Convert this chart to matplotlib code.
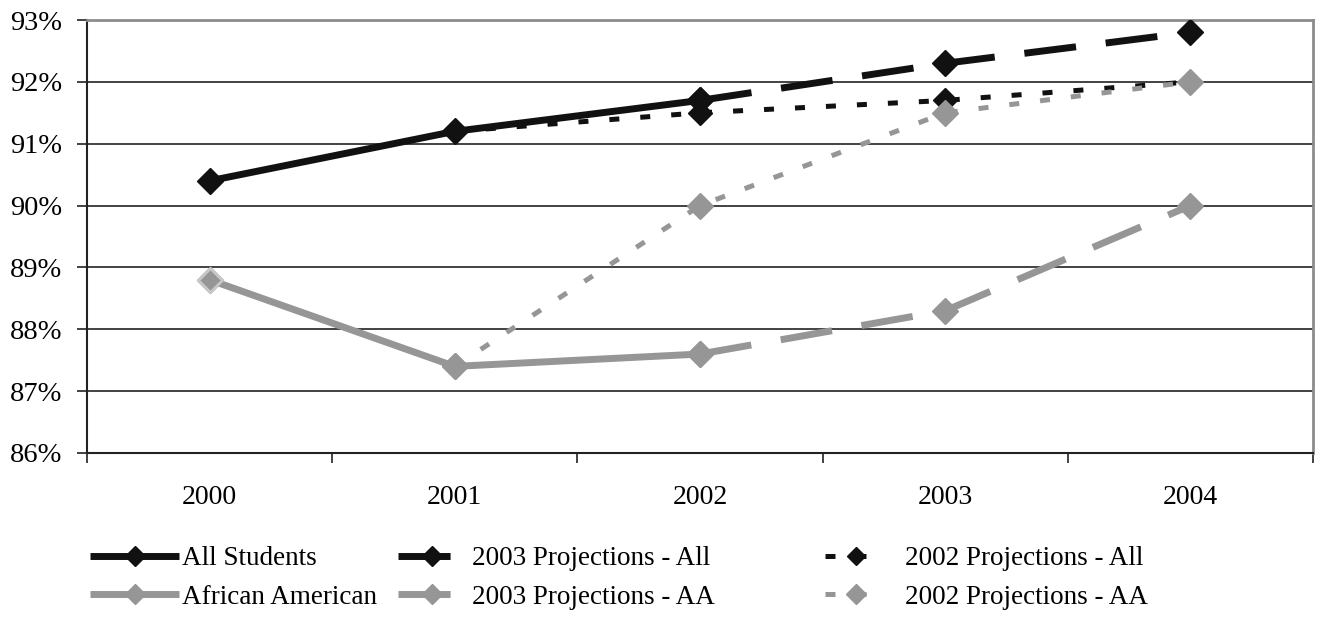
import matplotlib
matplotlib.use("Agg")
import matplotlib.pyplot as plt
from matplotlib.ticker import FixedLocator, FuncFormatter

plt.rcParams['font.family'] = ['Liberation Serif', 'DejaVu Serif']

years = ['2000', '2001', '2002', '2003', '2004']

# actual rates (%), by year index
all_students = [90.4, 91.2, 91.7]
african_american = [88.8, 87.4, 87.6]

# projections
proj03_all = [91.7, 92.3, 92.8]          # 2002-2004
proj03_aa = [87.6, 88.3, 90.0]           # 2002-2004
proj02_all = [91.2, 91.5, 91.7, 92.0]    # 2001-2004
proj02_aa = [87.4, 90.0, 91.5, 92.0]     # 2001-2004

BLACK = '#111111'
GREY = '#969696'
W, H, DPI = 1317, 618, 100

fig = plt.figure(figsize=(W / DPI, H / DPI), dpi=DPI)
ax = fig.add_axes([87 / W, 1 - 453 / H, (1313 - 87) / W, (453 - 20) / H])

ms = 13.5
lw = 5
h_all, = ax.plot([0, 1, 2], all_students, color=BLACK, lw=lw, marker='D',
                 ms=ms, mec=BLACK, mfc=BLACK, solid_capstyle='butt', zorder=3)
h_aa, = ax.plot([0, 1, 2], african_american, color=GREY, lw=lw, marker='D',
                ms=ms, mfc=GREY, mec=GREY, solid_capstyle='butt', zorder=3)
# the first AA point has a lighter outline
ax.plot([0], african_american[:1], ls='none', marker='D', ms=ms - 1,
        mfc=GREY, mec='#c8c8c8', mew=2, zorder=3.1)

h_p03_all, = ax.plot([2, 3, 4], proj03_all, color=BLACK, lw=lw, marker='D',
                     ms=ms, mfc=BLACK, mec=BLACK, dashes=(7.5, 4.3),
                     dash_capstyle='butt', zorder=4)
h_p03_aa, = ax.plot([2, 3, 4], proj03_aa, color=GREY, lw=lw, marker='D',
                    ms=ms, mfc=GREY, mec=GREY, dashes=(7.5, 4.3),
                    dash_capstyle='butt', zorder=4)
h_p02_all, = ax.plot([1, 2, 3, 4], proj02_all, color=BLACK, lw=3.6, marker='D',
                     ms=ms - 1.5, mfc=BLACK, mec=BLACK, dashes=(2.0, 4.2),
                     dash_capstyle='butt', zorder=5)
h_p02_aa, = ax.plot([1, 2, 3, 4], proj02_aa, color=GREY, lw=3.6, marker='D',
                    ms=ms, mfc=GREY, mec=GREY, dashes=(2.0, 4.2),
                    dash_capstyle='butt', zorder=6)

ax.set_xlim(-0.5, 4.5)
ax.set_ylim(86, 93)
ax.yaxis.set_major_locator(FixedLocator(range(86, 94)))
ax.yaxis.set_major_formatter(FuncFormatter(lambda v, p: f'{v:.0f}%'))
ax.grid(axis='y', color='#222222', lw=1.2, zorder=1)

# category labels sit between the tick marks
ax.xaxis.set_major_locator(FixedLocator([-0.5, 0.5, 1.5, 2.5, 3.5, 4.5]))
ax.xaxis.set_major_formatter(FuncFormatter(lambda v, p: ''))
ax.xaxis.set_minor_locator(FixedLocator(range(5)))
ax.set_xticklabels(years, minor=True)
ax.tick_params(axis='x', which='minor', length=0, pad=23, labelsize=20)
ax.tick_params(axis='x', which='major', length=7, width=1.2, color='#222222')
ax.tick_params(axis='y', length=7, width=1.2, color='#222222', labelsize=20.5, pad=11)

for side in ('left', 'bottom'):
    ax.spines[side].set_color('#222222')
    ax.spines[side].set_linewidth(1.5)
for side in ('top', 'right'):
    ax.spines[side].set_color('#8c8c8c')
    ax.spines[side].set_linewidth(2)

# three legend columns, each placed on its own
leg_kw = dict(loc='center left', frameon=False, fontsize=19.5, borderpad=0,
              borderaxespad=0, labelspacing=0.5, numpoints=1, markerscale=0.75,
              bbox_transform=fig.transFigure)
cols = [
    ([h_all, h_aa], ['All Students', 'African American'], 90, 3.3, 0.1),
    ([h_p03_all, h_p03_aa], ['2003 Projections - All', '2003 Projections - AA'], 398, 2.5, 0.25),
    ([h_p02_all, h_p02_aa], ['2002 Projections - All', '2002 Projections - AA'], 825, 2.3, 0.65),
]
for handles, labels, x0, hl, tp in cols:
    fig.legend(handles, labels, bbox_to_anchor=(x0 / W, 1 - 578 / H),
               handlelength=hl, handletextpad=tp, **leg_kw)

fig.savefig('out.png', dpi=DPI)
